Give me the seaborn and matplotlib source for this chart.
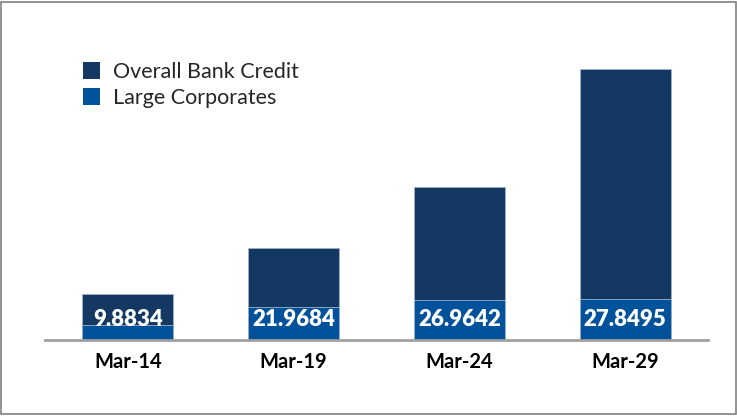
import matplotlib.pyplot as plt
import pandas as pd
import seaborn as sns
from matplotlib.patches import Patch, Rectangle

# Данные графика.
periods = ['Mar-14', 'Mar-19', 'Mar-24', 'Mar-29']
overall_credit = [31.0, 62.0, 103.0, 183.0]
large_corporates = [9.8834, 21.9684, 26.9642, 27.8495]
series_names = ['Overall Bank Credit', 'Large Corporates']

dark_blue = '#133963'
mid_blue = '#01529A'

sns.set_style('white')
plt.rcParams['font.family'] = ['Lato', 'DejaVu Sans']

plot_data = pd.DataFrame({
    'period': periods,
    'overall': overall_credit,
    'large': large_corporates,
})

figure = plt.figure(figsize=(7.37, 4.16), dpi=100)
ax = figure.add_axes([0.061, 0.1827, 0.8997, 0.72])

# Столбцы накладываются друг на друга, а не складываются.
sns.barplot(data=plot_data, x='period', y='overall', color=dark_blue,
            width=0.55, edgecolor='#9fb3cc', linewidth=0.6,
            saturation=1, ax=ax)
sns.barplot(data=plot_data, x='period', y='large', color=mid_blue,
            width=0.55, edgecolor='#9fb3cc', linewidth=0.6,
            saturation=1, ax=ax)

ax.set_xlim(-0.5, 3.5)
ax.set_ylim(0, 202)
ax.set_xlabel('')
ax.set_ylabel('')
ax.set_yticks([])

# Подписи значений.
for i, value in enumerate(large_corporates):
    ax.annotate(
        text=f'{value:.4f}',
        xy=(i, 0),
        xytext=(0, 14.5),
        textcoords='offset points',
        ha='center',
        va='center',
        color='white',
        fontsize=16,
        fontweight='heavy'
    )

ax.tick_params(axis='x', length=0, pad=9, labelsize=14.5)
for label in ax.get_xticklabels():
    label.set_fontweight('bold')
    label.set_color('black')

for s in 'top', 'right', 'left':
    ax.spines[s].set_visible(False)
ax.spines['bottom'].set_color('#a0a0a0')
ax.spines['bottom'].set_linewidth(2)

# Легенда.
handles = [Patch(facecolor=dark_blue, edgecolor='none'),
           Patch(facecolor=mid_blue, edgecolor='none')]
figure.legend(
    handles=handles,
    labels=series_names,
    loc='upper left',
    bbox_to_anchor=(0.1126, 0.852),
    frameon=False,
    fontsize=15.5,
    handlelength=0.8,
    handleheight=0.85,
    handletextpad=0.6,
    labelspacing=0.28,
    borderaxespad=0,
    borderpad=0
)

# Рамка вокруг рисунка.
figure.patches.append(Rectangle((0.0015, 0.004), 0.997, 0.991,
                                transform=figure.transFigure, fill=False,
                                edgecolor='#808080', linewidth=1.2))

figure.savefig('out.png', dpi=100)
